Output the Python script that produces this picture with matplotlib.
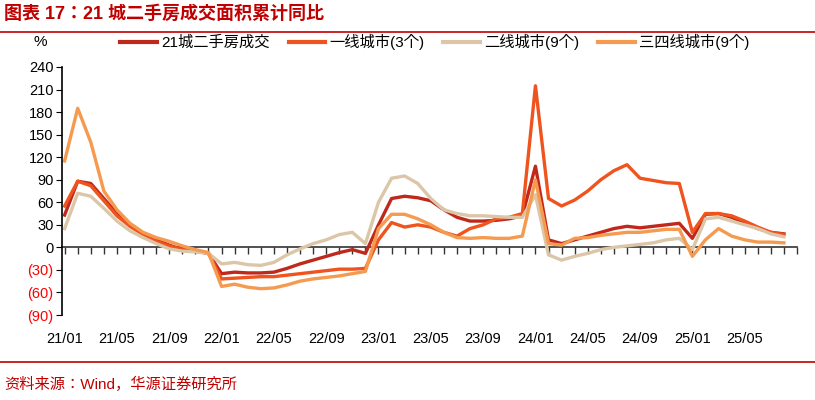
import matplotlib
matplotlib.use("Agg")
import matplotlib.pyplot as plt
from matplotlib.lines import Line2D
from matplotlib import font_manager as fm

names = sorted({f.name for f in fm.fontManager.ttflist})
cjk = [n for n in names if "CJK" in n and "Sans" in n]
fam = "Noto Sans CJK SC" if "Noto Sans CJK SC" in cjk else (cjk[0] if cjk else "DejaVu Sans")
plt.rcParams["font.family"] = ["Liberation Sans", fam, "DejaVu Sans"]

months = list(range(56))
tick_pos = list(range(0, 56, 4))
tick_labels = ["21/01", "21/05", "21/09", "22/01", "22/05", "22/09", "23/01",
               "23/05", "23/09", "24/01", "24/05", "24/09", "25/01", "25/05"]

city21 = [43, 88, 85, 65, 45, 30, 18, 10, 3, -3, -5, -8,
          -35, -33, -34, -34, -33, -28, -22, -17, -12, -7, -3, -8,
          30, 65, 68, 66, 62, 50, 40, 35, 35, 36, 38, 42,
          108, 10, 5, 10, 15, 20, 25, 28, 26, 28, 30, 32,
          12, 44, 45, 40, 32, 25, 20, 18]
tier1 = [55, 88, 82, 62, 42, 28, 17, 8, 2, -3, -5, -8,
         -42, -41, -40, -39, -39, -37, -35, -33, -31, -29, -29, -28,
         10, 33, 27, 30, 27, 20, 15, 25, 30, 38, 40, 45,
         215, 65, 55, 63, 75, 90, 102, 110, 92, 89, 86, 85,
         20, 45, 45, 42, 35, 27, 20, 17]
tier2 = [25, 72, 68, 52, 35, 22, 13, 5, -2, -5, -6, -8,
         -22, -20, -23, -24, -20, -10, -2, 5, 10, 17, 20, 5,
         60, 92, 95, 85, 65, 50, 45, 42, 42, 41, 40, 40,
         70, -10, -17, -12, -8, -3, 0, 2, 4, 6, 10, 12,
         -3, 38, 40, 35, 30, 25, 18, 14]
tier34 = [115, 185, 140, 75, 50, 32, 20, 13, 8, 2, -3, -7,
          -52, -49, -53, -55, -54, -50, -45, -42, -40, -38, -35, -32,
          25, 44, 44, 38, 30, 20, 13, 12, 13, 12, 12, 15,
          90, 5, 3, 12, 13, 16, 18, 20, 20, 22, 24, 24,
          -12, 10, 25, 15, 10, 7, 7, 6]

series = [("21城二手房成交", city21, "#C0281C"),
          ("一线城市(3个)", tier1, "#F0541E"),
          ("二线城市(9个)", tier2, "#DCC6A8"),
          ("三四线城市(9个)", tier34, "#F59A4E")]

fig = plt.figure(figsize=(8.15, 4.0), dpi=100)
W, H = 815, 400
ax = fig.add_axes([62 / W, 1 - 315 / H, (797 - 62) / W, (315 - 67) / H])

for name, vals, col in series:
    ax.plot(months, vals, color=col, lw=2.4, solid_joinstyle="round")

ax.set_ylim(-90, 240)
ax.set_xlim(-0.2, 56)
ax.set_yticks(list(range(-90, 241, 30)))
ax.set_yticklabels([f"({abs(v)})" if v < 0 else str(v) for v in range(-90, 241, 30)])
for lab, v in zip(ax.get_yticklabels(), range(-90, 241, 30)):
    lab.set_color("#FF0000" if v < 0 else "black")
    lab.set_fontsize(10.5)
ax.tick_params(axis="y", direction="out", length=4, pad=2)
for s in ["top", "right", "bottom"]:
    ax.spines[s].set_visible(False)
ax.spines["left"].set_linewidth(1.2)
ax.set_xticks(tick_pos)
ax.set_xticklabels(tick_labels, fontsize=10.5)
ax.tick_params(axis="x", length=0, pad=12)

sec = ax.secondary_xaxis(90 / 330)
sec.set_xticks(list(range(0, 57)))
sec.set_xticklabels([])
sec.tick_params(direction="out", length=5, width=1, color="#333333")
sec.spines["bottom"].set_linewidth(1.2)
sec.spines["bottom"].set_color("#333333")

handles = [Line2D([0], [0], color=c, lw=3) for _, _, c in series]
fig.legend(handles, [n for n, _, _ in series], loc="center", ncol=4,
           bbox_to_anchor=(435 / W, 1 - 42 / H), frameon=False, fontsize=11,
           handlelength=2.4, columnspacing=1.2, handletextpad=0.3)
fig.text(33 / W, 1 - 42 / H, "%", fontsize=11, va="center")

fig.text(4 / W, 1 - 14 / H, "图表 17：21 城二手房成交面积累计同比", fontsize=13,
         fontweight="bold", color="#C00000", va="center")
fig.add_artist(Line2D([0, 1], [1 - 32 / H, 1 - 32 / H], color="#C00000", lw=1.2))
fig.add_artist(Line2D([0, 1], [1 - 362 / H, 1 - 362 / H], color="#C00000", lw=1.2))
fig.text(4 / W, 1 - 384 / H, "资料来源：Wind，华源证券研究所", fontsize=11,
         color="#C00000", va="center")

fig.savefig("out.png", dpi=100)
